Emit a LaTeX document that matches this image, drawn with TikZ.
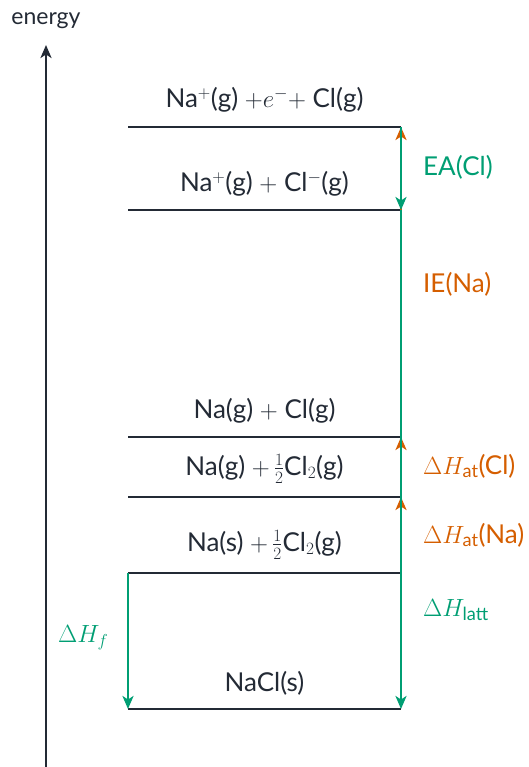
\documentclass[tikz,border=0pt]{standalone}
\usepackage{amsmath}
\usepackage[no-math]{fontspec}
\setmainfont{Lato}
\usetikzlibrary{arrows.meta}
\definecolor{ink}{HTML}{232A35}
\definecolor{grn}{HTML}{009E73}
\definecolor{org}{HTML}{D55E00}
\tikzset{
  level/.style={draw=ink, line width=2.5pt},
  lbl/.style={text=ink, font=\fontsize{26}{30}\selectfont, inner sep=0pt},
  axlbl/.style={text=ink, font=\fontsize{23}{27}\selectfont, inner sep=0pt},
  glbl/.style={text=grn, font=\fontsize{26}{30}\selectfont, inner sep=0pt, anchor=west},
  olbl/.style={text=org, font=\fontsize{26}{30}\selectfont, inner sep=0pt, anchor=west},
  garrow/.style={draw=grn, line width=2.5pt, -{Stealth[length=13pt,width=11pt,inset=3.5pt]}},
  oarrow/.style={draw=org, line width=2.5pt, -{Stealth[length=13pt,width=11pt,inset=3.5pt]}},
  axis/.style={draw=ink, line width=2.5pt, -{Stealth[length=13pt,width=11pt,inset=3.5pt]}}
}
\begin{document}
\begin{tikzpicture}[x=1pt,y=-1pt]
\useasboundingbox (0,0) rectangle (528,767);
% axis
\coordinate (ax0) at (46,767);
\coordinate (ax1) at (46,45);
\draw[axis] (ax0) -- (ax1);
\node[axlbl] (energy) at (46,21) {energy};
% levels
\foreach \n/\y in {1/127,2/210,3/437,4/497,5/573,6/709}{
  \coordinate (l\n a) at (128,\y);
  \coordinate (l\n b) at (401,\y);
}
\foreach \n in {1,...,6}{ \draw[level] (l\n a) -- (l\n b); }
% level labels
\node[lbl] (t1) at (264.5,100) {Na$^+$(g) $+e^-+$ Cl(g)};
\node[lbl] (t2) at (264.5,184) {Na$^+$(g) $+$ Cl$^-$(g)};
\node[lbl] (t3) at (264.5,411) {Na(g) $+$ Cl(g)};
\node[lbl] (t4) at (264.5,469) {Na(g) $+\,\frac{1}{2}$Cl$_2$(g)};
\node[lbl] (t5) at (264.5,545) {Na(s) $+\,\frac{1}{2}$Cl$_2$(g)};
\node[lbl] (t6) at (264.5,683) {NaCl(s)};
% orange arrows
\draw[oarrow] (l5b) -- (l4b);
\draw[oarrow] (l4b) -- (l3b);
\draw[oarrow] (l3b) -- (l1b);
% green arrows
\draw[garrow] (l1b) -- (l2b);
\draw[garrow] (l2b) -- (l6b);
\draw[garrow] (l5a) -- (l6a);
% right labels
\node[glbl] (ea) at (423,167) {EA(Cl)};
\node[olbl] (ie) at (423,284) {IE(Na)};
\node[olbl] (hcl) at (423,466) {$\Delta H_{\text{at}}$(Cl)};
\node[olbl] (hna) at (423,535) {$\Delta H_{\text{at}}$(Na)};
\node[glbl] (hl) at (423,610) {$\Delta H_{\text{latt}}$};
\node[glbl] (hf) at (58,638) {$\Delta H_f$};
\end{tikzpicture}
\end{document}
